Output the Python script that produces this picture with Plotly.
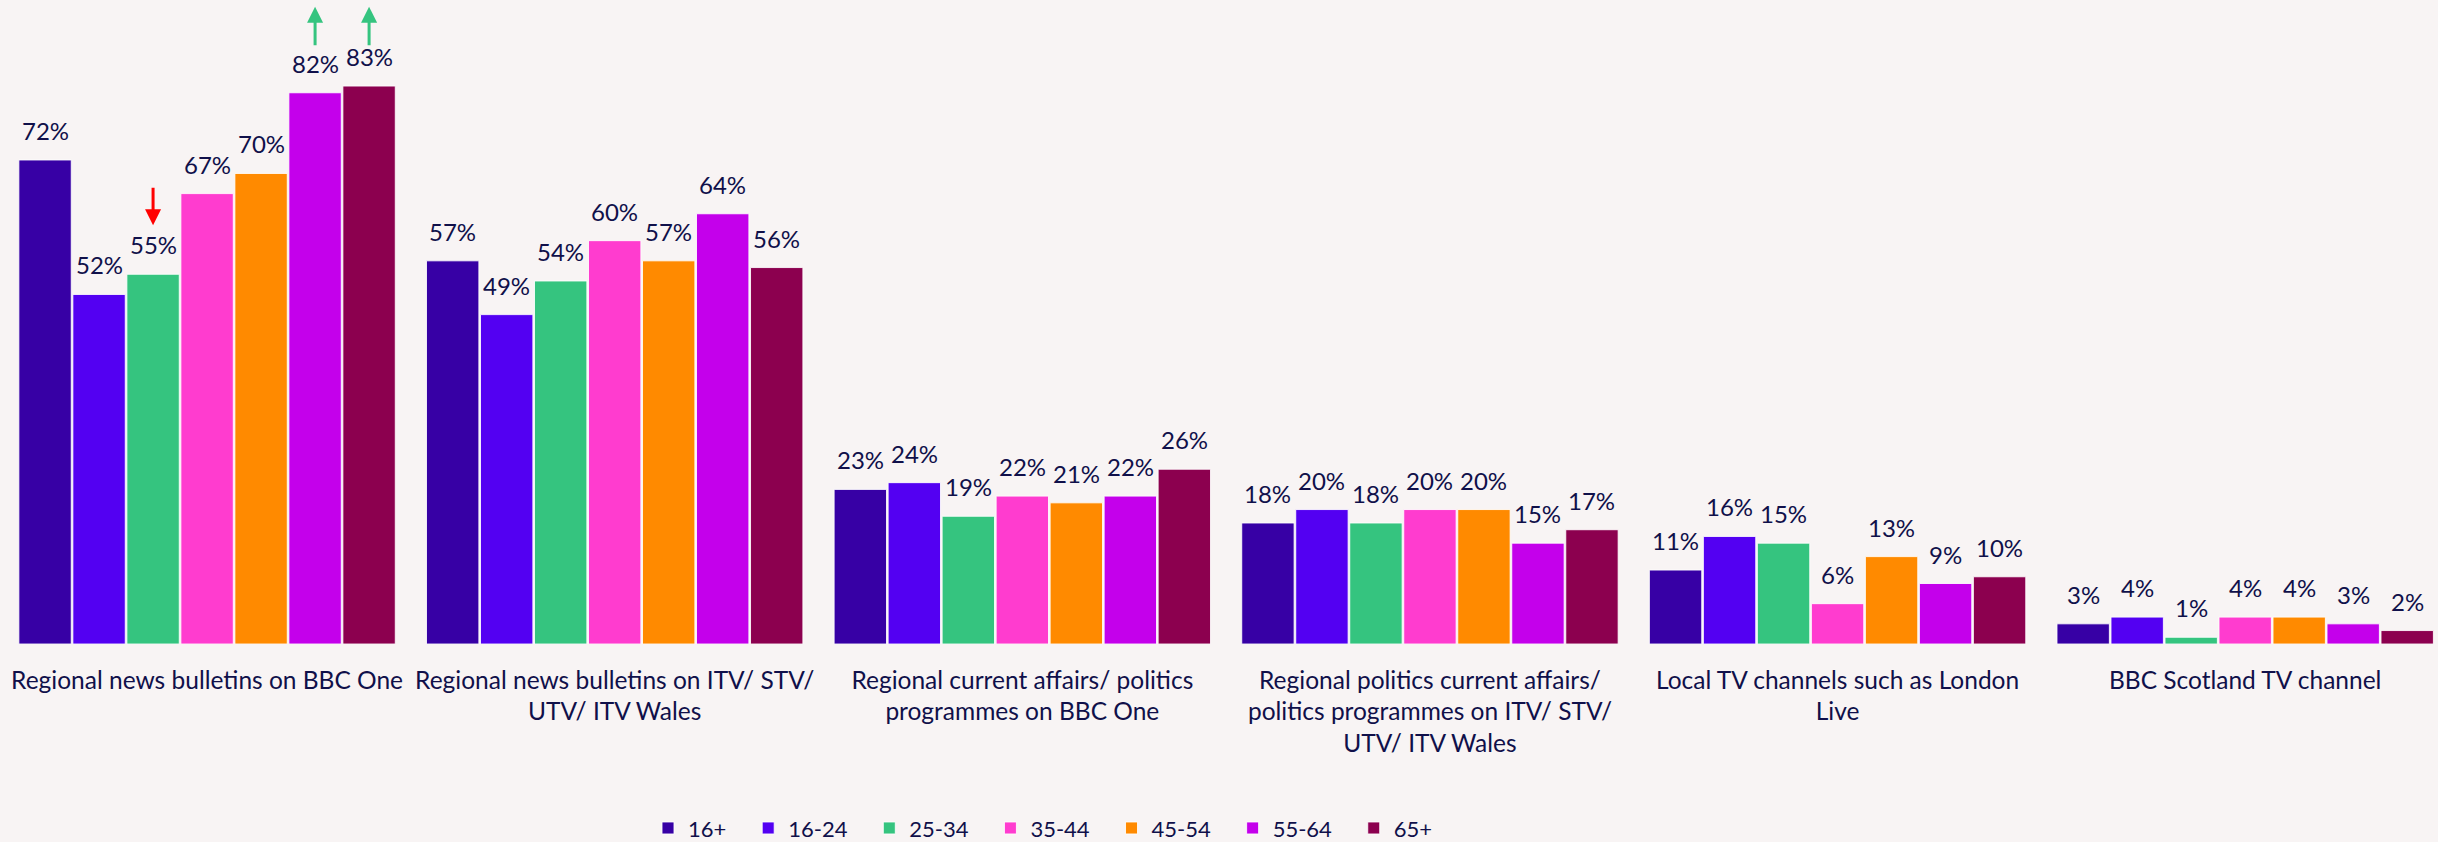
import plotly.graph_objects as go

categories = [
    "Regional news bulletins on BBC One",
    "Regional news bulletins on ITV/ STV/<br>UTV/ ITV Wales",
    "Regional current affairs/ politics<br>programmes on BBC One",
    "Regional politics current affairs/<br>politics programmes on ITV/ STV/<br>UTV/ ITV Wales",
    "Local TV channels such as London<br>Live",
    "BBC Scotland TV channel",
]
series_names = ["16+", "16-24", "25-34", "35-44", "45-54", "55-64", "65+"]
values = {
    "16+":   [72, 57, 23, 18, 11, 3],
    "16-24": [52, 49, 24, 20, 16, 4],
    "25-34": [55, 54, 19, 18, 15, 1],
    "35-44": [67, 60, 22, 20, 6, 4],
    "45-54": [70, 57, 21, 20, 13, 4],
    "55-64": [82, 64, 22, 15, 9, 3],
    "65+":   [83, 56, 26, 17, 10, 2],
}
colors = ["#3700A5", "#5300F2", "#35C47F", "#FF3CCF", "#FF8A00", "#C400EB", "#8C004F"]

# significance arrows: (category index, series index, direction, arrow tip level on value axis)
arrows = [(0, 2, "down", 62.3), (0, 5, "up", 94.8), (0, 6, "up", 94.8)]

TEXT = "#10104A"
FONT = "Lato"
BG = "#F8F4F4"
PAD = "\u00a0\u00a0\u00a0"  # extra spacing after legend entries

bargap = 0.0726
bargroupgap = 0.03
n = len(series_names)

fig = go.Figure()
for name, col in zip(series_names, colors):
    fig.add_trace(go.Bar(
        x=categories, y=values[name], name=name + PAD,
        marker=dict(color=col, line=dict(color="rgba(255,255,255,0.85)", width=1)),
    ))

annotations = []
slot = (1 - bargap) / n
for j, name in enumerate(series_names):
    for i, v in enumerate(values[name]):
        annotations.append(dict(
            x=i + (j - (n - 1) / 2) * slot, y=v, xref="x", yref="y",
            text=f"{v}%", showarrow=False, yanchor="bottom", yshift=13,
            font=dict(family=FONT, size=24, color=TEXT),
        ))

for (ci, sj, d, tip) in arrows:
    xpos = ci + (sj - (n - 1) / 2) * slot
    annotations.append(dict(
        x=xpos, y=tip, xref="x", yref="y", text="", showarrow=True,
        ax=0, ay=40 if d == "up" else -39,
        arrowhead=2, arrowsize=1.07, arrowwidth=3,
        arrowcolor="#35C47F" if d == "up" else "#FF0000",
    ))

fig.update_layout(
    width=2438, height=842,
    barmode="group", bargap=bargap, bargroupgap=bargroupgap,
    paper_bgcolor=BG, plot_bgcolor=BG,
    margin=dict(l=0, r=0, t=0, b=198, autoexpand=False),
    font=dict(family=FONT, size=24, color=TEXT),
    xaxis=dict(range=[-0.508, 5.473], showgrid=False, zeroline=False, showline=False,
               ticks="", ticklabelstandoff=19, automargin=False,
               tickfont=dict(family=FONT, size=24.5, color=TEXT)),
    yaxis=dict(range=[0, 95.8], visible=False, showgrid=False, zeroline=False),
    legend=dict(orientation="h", x=648 / 2438, xanchor="left", y=-0.286, yanchor="middle",
                font=dict(family=FONT, size=22, color=TEXT), bgcolor="rgba(0,0,0,0)"),
    annotations=annotations,
    showlegend=True,
)

fig.write_html("out.html", config={"displayModeBar": False})

with open("out.html", "r", encoding="utf-8") as f:
    html = f.read()
html = html.replace("<body>", '<body style="margin:0;padding:0;">', 1)
with open("out.html", "w", encoding="utf-8") as f:
    f.write(html)
